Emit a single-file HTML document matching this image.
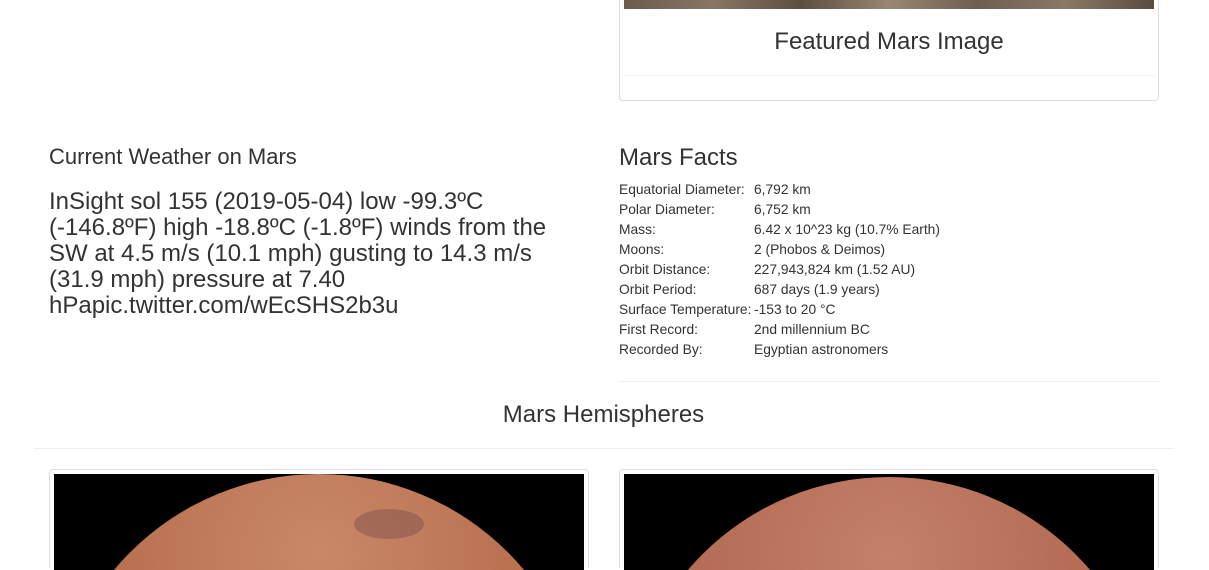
<!DOCTYPE html>
<html><head><meta charset="utf-8"><style>
body{margin:0;width:1209px;height:570px;overflow:hidden;background:#fff;font-family:"Liberation Sans",Arial,sans-serif;color:#333;position:relative}
.a{position:absolute;white-space:nowrap}
.facts div{position:absolute;font-size:13.8px;white-space:nowrap}
</style></head><body>
<div class="a" style="left:619px;top:-6px;width:538px;height:105px;border:1px solid #ddd;border-radius:4px"></div>
<div class="a" style="left:624px;top:0;width:530px;height:9px;background:linear-gradient(90deg,#6b5a4d,#8a7563,#5d4e42,#9a8672,#6f5e50,#8b7866,#5a4b40)"></div>
<div class="a" style="left:619px;width:540px;top:28px;text-align:center;font-size:24px">Featured Mars Image</div>
<div class="a" style="left:624px;top:75px;width:530px;height:1px;background:#eee"></div>

<div class="a" style="left:49px;top:144px;font-size:22px">Current Weather on Mars</div>
<div class="a" style="left:49px;top:189px;font-size:24px;line-height:26px">InSight sol 155 (2019-05-04) low -99.3ºC<br>(-146.8ºF) high -18.8ºC (-1.8ºF) winds from the<br>SW at 4.5 m/s (10.1 mph) gusting to 14.3 m/s<br>(31.9 mph) pressure at 7.40<br>hPapic.twitter.com/wEcSHS2b3u</div>

<div class="a" style="left:619px;top:144px;font-size:24px">Mars Facts</div>
<div class="facts">
<div style="left:619px;top:182px">Equatorial Diameter:</div><div style="left:754px;top:182px">6,792 km</div>
<div style="left:619px;top:202px">Polar Diameter:</div><div style="left:754px;top:202px">6,752 km</div>
<div style="left:619px;top:222px">Mass:</div><div style="left:754px;top:222px">6.42 x 10^23 kg (10.7% Earth)</div>
<div style="left:619px;top:242px">Moons:</div><div style="left:754px;top:242px">2 (Phobos &amp; Deimos)</div>
<div style="left:619px;top:262px">Orbit Distance:</div><div style="left:754px;top:262px">227,943,824 km (1.52 AU)</div>
<div style="left:619px;top:282px">Orbit Period:</div><div style="left:754px;top:282px">687 days (1.9 years)</div>
<div style="left:619px;top:302px">Surface Temperature:</div><div style="left:754px;top:302px">-153 to 20 °C</div>
<div style="left:619px;top:322px">First Record:</div><div style="left:754px;top:322px">2nd millennium BC</div>
<div style="left:619px;top:342px">Recorded By:</div><div style="left:754px;top:342px">Egyptian astronomers</div>
</div>
<div class="a" style="left:619px;top:381px;width:540px;height:1px;background:#eee"></div>

<div class="a" style="left:0;width:1207px;top:401px;text-align:center;font-size:24px">Mars Hemispheres</div>
<div class="a" style="left:34px;top:448px;width:1139px;height:1px;background:#eee"></div>

<div class="a" style="left:49px;top:469px;width:538px;height:98px;border:1px solid #ddd;border-bottom:none;border-radius:4px 4px 0 0"></div>
<div class="a" style="left:54px;top:474px;width:530px;height:96px;background:#000;overflow:hidden">
<div style="position:absolute;left:-2px;top:0;width:534px;height:534px;border-radius:50%;background:radial-gradient(circle at 50% 15%,#c98868,#b8704f 40%,#9c5a40)"></div>
<div style="position:absolute;left:300px;top:35px;width:70px;height:30px;border-radius:50%;background:#8a5a50;opacity:.6"></div>
</div>
<div class="a" style="left:619px;top:469px;width:538px;height:98px;border:1px solid #ddd;border-bottom:none;border-radius:4px 4px 0 0"></div>
<div class="a" style="left:624px;top:474px;width:530px;height:96px;background:#000;overflow:hidden">
<div style="position:absolute;left:1px;top:3px;width:528px;height:528px;border-radius:50%;background:radial-gradient(circle at 50% 15%,#c4806a,#b36b52 40%,#95553f)"></div>
</div>
</body></html>
